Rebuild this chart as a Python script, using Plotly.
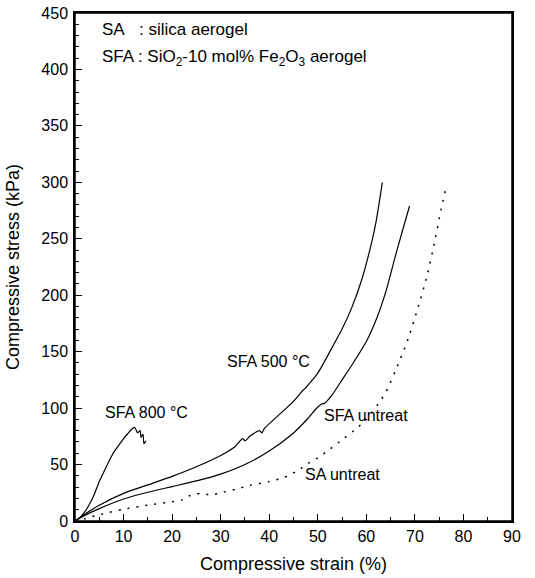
import plotly.graph_objects as go

# ---- data ----
sfa800_x = [0, 1, 2, 3, 4, 5, 6, 7, 8, 9, 10, 11, 11.6, 12.3, 12.9, 13.4, 13.6, 14.0, 14.2, 14.6]
sfa800_y = [0, 3, 8, 15, 24, 35, 44, 53, 61, 67, 73, 78, 81, 83, 78, 80, 74, 77, 68.5, 71]

sfa500_x = [0, 2, 5, 10, 15, 20, 25, 30, 33, 34.5, 35, 36, 38, 38.5, 39, 42, 45, 47, 47.3,
            50, 53, 55, 57, 59, 61, 62, 63.3]
sfa500_y = [0, 6, 14, 24.5, 32, 39.5, 48, 58, 66, 73, 71, 75, 80, 78, 82, 94, 106, 116, 117,
            131, 154, 170, 189, 213, 245, 265, 300]

sfaun_x = [0, 2, 5, 10, 15, 20, 25, 30, 35, 40, 45, 48, 50, 51, 51.3, 53, 55, 57, 60, 62,
           64, 66, 67.5, 68.9]
sfaun_y = [0, 5, 11, 19.5, 25.5, 30.5, 35.5, 41.5, 50, 62, 78, 91, 101, 104, 104, 112, 125,
           138, 159, 178, 203, 235, 258, 279]

saun_x = [0, 2, 4, 6, 10, 15, 20, 22, 23, 25, 26, 28, 30, 33, 36, 40, 43, 46, 48, 50, 52,
          55, 58, 60, 62.5, 64, 66, 68.5, 70.5, 72.5, 74, 75.4, 76.4]
saun_y = [0, 2, 4.5, 6.5, 10.5, 14, 17, 18.5, 21.5, 24, 24.5, 23, 25, 28, 31.5, 35, 38.5,
          45, 51, 56, 62, 72, 82, 90, 104, 114, 133, 160, 187, 217, 246, 276, 295]

curve_labels = ["SFA 800 °C", "SFA 500 °C", "SFA untreat", "SA untreat"]
label_x = [5.8, 30.9, 50.8, 46.9]
label_y = [96.5, 141.5, 93.5, 41]

x_title = "Compressive strain (%)"
y_title = "Compressive stress (kPa)"

FONT = "Liberation Sans, Arial, sans-serif"

fig = go.Figure()
for xs, ys, dash in [(sfa800_x, sfa800_y, "solid"), (sfa500_x, sfa500_y, "solid"),
                     (sfaun_x, sfaun_y, "solid"), (saun_x, saun_y, "2px,7px")]:
    fig.add_trace(go.Scatter(x=xs, y=ys, mode="lines",
                             line=dict(color="black", width=1.5 if dash != "solid" else 1.2,
                                       dash=dash, shape="spline", smoothing=0.6),
                             showlegend=False, hoverinfo="skip"))

for t, lx, ly in zip(curve_labels, label_x, label_y):
    fig.add_annotation(x=lx, y=ly, text=t, showarrow=False, xanchor="left", yanchor="middle",
                       font=dict(family=FONT, size=16, color="black"))

fig.add_annotation(x=5.2, y=435.5, text="SA", showarrow=False, xanchor="left", yanchor="middle",
                   font=dict(family=FONT, size=17, color="black"))
fig.add_annotation(x=12.8, y=435.5, text=": silica aerogel", showarrow=False, xanchor="left",
                   yanchor="middle", font=dict(family=FONT, size=17, color="black"))
fig.add_annotation(x=5.2, y=410, text="SFA : SiO<sub>2</sub>-10 mol% Fe<sub>2</sub>O<sub>3</sub> aerogel",
                   showarrow=False, xanchor="left", yanchor="middle",
                   font=dict(family=FONT, size=17, color="black"))

# plot frame
fig.add_shape(type="rect", xref="paper", yref="paper", x0=0, x1=1, y0=0, y1=1,
              line=dict(color="black", width=1.5), fillcolor="rgba(0,0,0,0)", layer="above")

axis_common = dict(showgrid=False, zeroline=False, showline=True, linecolor="black", linewidth=1.5,
                   mirror=True, ticks="inside", ticklen=7, tickwidth=1.2, tickcolor="black",
                   automargin=False,
                   tickfont=dict(family=FONT, size=16, color="black"))

fig.update_xaxes(range=[0, 90], dtick=10, tick0=0,
                 minor=dict(ticks="inside", ticklen=4, dtick=5, tickcolor="black", tickwidth=1.2),
                 title=dict(text=x_title, font=dict(family=FONT, size=18, color="black"), standoff=13),
                 **axis_common)
fig.update_yaxes(range=[0, 450], dtick=50, tick0=0, ticklabelstandoff=2,
                 minor=dict(ticks="inside", ticklen=4, dtick=10, tickcolor="black", tickwidth=1.2),
                 title=dict(text=y_title, font=dict(family=FONT, size=18, color="black"), standoff=17),
                 **axis_common)

fig.update_layout(width=535, height=578, margin=dict(l=75, r=23, t=13, b=57, autoexpand=False),
                  paper_bgcolor="white", plot_bgcolor="white",
                  font=dict(family=FONT, color="black"))

# remove the browser's default 8px page margin so the figure sits at the window origin
fig.write_html("out.html", config={"displayModeBar": False},
               post_script="document.body.style.margin='0px';")
